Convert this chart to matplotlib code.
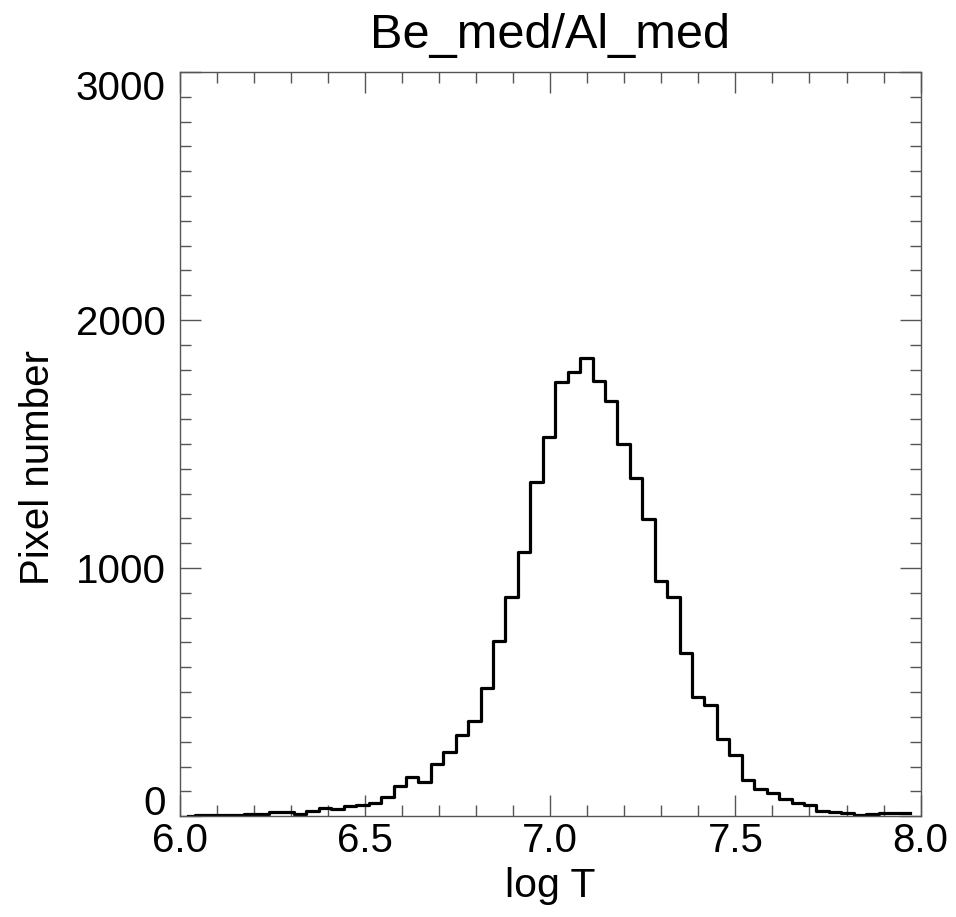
import numpy as np
import matplotlib
matplotlib.use('Agg')
import matplotlib.pyplot as plt
import matplotlib.transforms as mtransforms
from matplotlib.ticker import MultipleLocator

# Histogram of log T (bin start and width)
bin_start = 6.0065
bin_width = 0.03357
counts = [2, 3, 3, 4, 5, 8, 9, 17, 18, 10,
          22, 31, 27, 42, 46, 51, 78, 121, 159, 138,
          210, 259, 329, 384, 515, 705, 884, 1066, 1348, 1527,
          1749, 1792, 1845, 1755, 1673, 1499, 1362, 1198, 949, 884,
          656, 479, 448, 309, 246, 145, 108, 94, 71, 54,
          44, 20, 17, 11, 5, 10, 11, 11, 11]

title = 'Be_med/Al_med'
x_label = 'log T'
y_label = 'Pixel number'
x_ticks = [6.0, 6.5, 7.0, 7.5, 8.0]
y_ticks = [0, 1000, 2000, 3000]

centers = bin_start + bin_width * (np.arange(len(counts)) + 0.5)

plt.rcParams['font.family'] = ['Liberation Sans', 'DejaVu Sans']

fig = plt.figure(figsize=(9.56, 9.17), dpi=100)
ax = fig.add_axes([0.188, 0.110, 0.775, 0.8115])

ax.step(centers, counts, where='mid', color='black', lw=2.3)

ax.set_xlim(6.0, 8.0)
ax.set_ylim(0, 3000)
ax.set_xticks(x_ticks)
ax.set_xticklabels(['%.1f' % t for t in x_ticks])
ax.set_yticks(y_ticks)
ax.xaxis.set_minor_locator(MultipleLocator(0.1))
ax.yaxis.set_minor_locator(MultipleLocator(100))

ax.tick_params(which='both', direction='in', top=True, right=True,
               color='#555555', width=1.0)
ax.tick_params(which='major', length=15, labelsize=29)
ax.tick_params(axis='x', which='major', pad=4)
ax.tick_params(axis='y', which='major', pad=10)
ax.tick_params(which='minor', length=8)
for s in ax.spines.values():
    s.set_color('#555555')
    s.set_linewidth(1.0)

# IDL-style label placement: end labels nudged inside the axis range
y_offsets = [11.5, 0, 0, -9.5]
for tick, dy in zip(ax.yaxis.get_major_ticks(), y_offsets):
    tick.label1.set_transform(tick.label1.get_transform() +
                              mtransforms.ScaledTranslation(0, dy / 72, fig.dpi_scale_trans))

ax.set_title(title, fontsize=35, pad=17)
ax.set_xlabel(x_label, fontsize=29.5, labelpad=5)
ax.set_ylabel(y_label, fontsize=29)
ax.yaxis.set_label_coords(-0.165, 0.469)

fig.savefig('out.png', dpi=100)
